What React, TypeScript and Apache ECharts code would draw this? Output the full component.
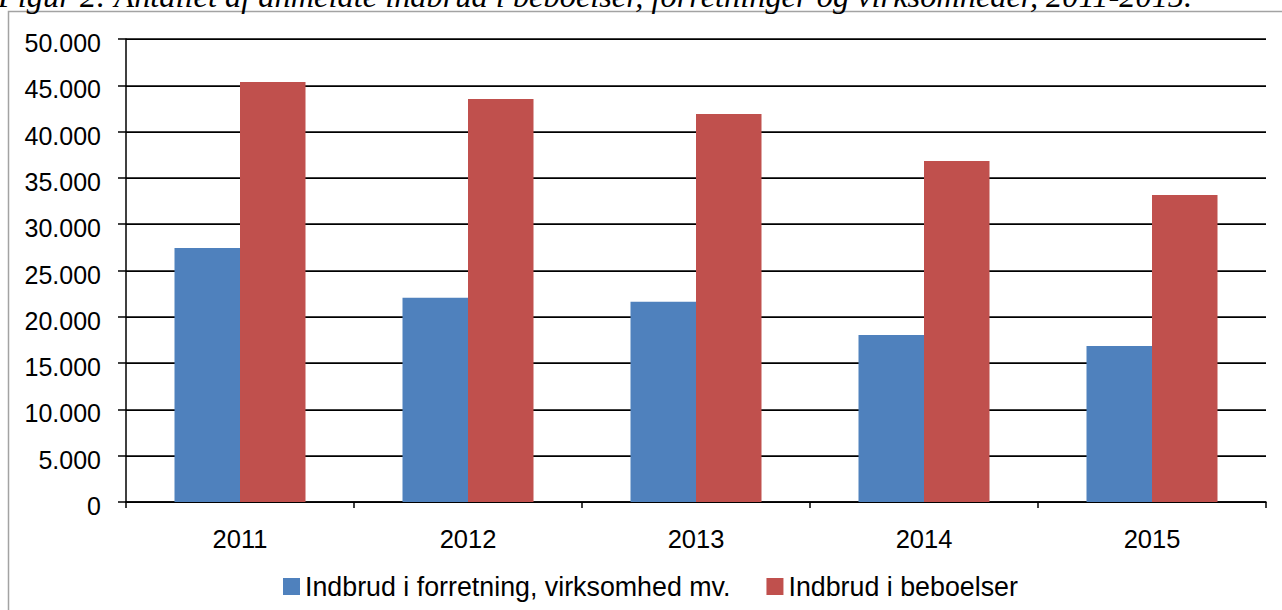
import React, { useEffect, useRef } from "react";
import * as echarts from "echarts";

const titleText =
  "Figur 2: Antallet af anmeldte indbrud i beboelser, forretninger og virksomheder, 2011-2015.";
const years = ["2011", "2012", "2013", "2014", "2015"];
const seriesNames = ["Indbrud i forretning, virksomhed mv.", "Indbrud i beboelser"];
const businessValues = [27430, 22060, 21630, 18030, 16850];
const homeValues = [45350, 43520, 41900, 36830, 33150];
const yMin = 0;
const yMax = 50000;
const yStep = 5000;

const fmt = (v: number) => String(Math.round(v)).replace(/\B(?=(\d{3})+(?!\d))/g, ".");

export default function App() {
  const ref = useRef<HTMLDivElement>(null);
  useEffect(() => {
    if (!ref.current) return;
    const chart = echarts.init(ref.current, null, { renderer: "svg" });
    const font = "'Liberation Sans', Arial, sans-serif";
    chart.setOption({
      animation: false,
      backgroundColor: "#ffffff",
      graphic: [
        {
          type: "rect",
          z: 1,
          shape: { x: 8.5, y: 11.5, width: 1320, height: 700 },
          style: { fill: "none", stroke: "#a3a3a3", lineWidth: 1.5 },
        },
        {
          type: "text",
          z: 2,
          x: -2,
          y: 12,
          style: {
            text: titleText,
            font: "italic 32.4px 'Liberation Serif', 'Times New Roman', serif",
            fill: "#000",
            verticalAlign: "bottom",
          },
        },
      ],
      legend: {
        left: 283,
        top: 573,
        padding: 0,
        itemWidth: 17,
        itemHeight: 17,
        itemGap: 36,
        icon: "rect",
        textStyle: { fontFamily: font, fontSize: 26.8, color: "#000" },
        data: seriesNames,
      },
      grid: { left: 126, right: 16, top: 39, bottom: 108, containLabel: false },
      xAxis: {
        type: "category",
        data: years,
        axisLine: { lineStyle: { color: "#000", width: 1.5 } },
        axisTick: { show: true, length: 6, lineStyle: { color: "#000", width: 1.5 } },
        axisLabel: { fontFamily: font, fontSize: 25.5, color: "#000", margin: 24 },
        splitLine: { show: false },
      },
      yAxis: {
        type: "value",
        min: yMin,
        max: yMax,
        interval: yStep,
        axisLine: { show: true, lineStyle: { color: "#000", width: 1.5 } },
        axisTick: { show: true, length: 8, lineStyle: { color: "#000", width: 1.5 } },
        axisLabel: {
          fontFamily: font,
          fontSize: 25,
          color: "#000",
          margin: 25,
          formatter: (v: number) => "{a|" + fmt(v) + "}",
          rich: {
            a: {
              fontFamily: font,
              fontSize: 25,
              color: "#000",
              padding: [8, 0, 0, 0],
            },
          },
        },
        splitLine: { show: true, lineStyle: { color: "#000", width: 1.75 } },
      },
      series: [
        {
          name: seriesNames[0],
          type: "bar",
          data: businessValues,
          barWidth: 65.5,
          barGap: "0%",
          itemStyle: { color: "#4F81BD" },
        },
        {
          name: seriesNames[1],
          type: "bar",
          data: homeValues,
          barWidth: 65.5,
          barGap: "0%",
          itemStyle: { color: "#C0504D" },
        },
      ],
    });
    return () => chart.dispose();
  }, []);
  return (
    <div
      ref={ref}
      style={{ position: "fixed", left: 0, top: 0, width: 1282, height: 610 }}
    />
  );
}
